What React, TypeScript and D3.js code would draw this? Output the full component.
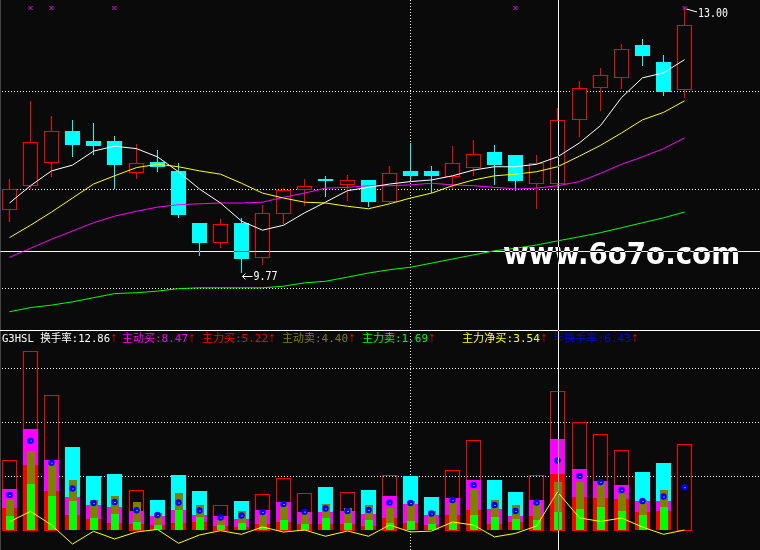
import * as d3 from 'd3';

const W = 760;
const H = 550;

// daily candles, oldest first
const opens = [10.55, 10.84, 11.12, 11.49, 11.37, 11.37, 11.0, 11.12, 11.01, 10.38, 10.15, 10.38, 9.96, 10.5, 10.79, 10.91, 10.85, 10.9, 10.64, 11.01, 11.01, 10.95, 11.06, 11.24, 11.2, 10.86, 10.86, 11.64, 12.03, 12.15, 12.54, 12.33, 12.0];
const highs = [10.91, 11.86, 11.68, 11.63, 11.59, 11.43, 11.34, 11.26, 11.11, 10.38, 10.43, 10.44, 10.6, 10.8, 10.91, 10.95, 10.96, 10.9, 11.07, 11.35, 11.07, 11.31, 11.38, 11.32, 11.2, 11.2, 11.77, 12.1, 12.26, 12.55, 12.61, 12.42, 13.0];
const lows = [10.39, 10.79, 10.94, 11.18, 11.2, 10.79, 10.91, 11.0, 10.44, 9.98, 10.07, 9.77, 9.87, 10.36, 10.58, 10.69, 10.64, 10.57, 10.62, 10.9, 10.74, 10.79, 10.95, 10.84, 10.77, 10.55, 10.8, 11.42, 11.74, 12.0, 12.28, 11.92, 11.9];
const closes = [10.79, 11.36, 11.49, 11.32, 11.31, 11.08, 11.11, 11.06, 10.47, 10.13, 10.36, 9.94, 10.5, 10.78, 10.83, 10.89, 10.9, 10.63, 10.98, 10.95, 10.95, 11.11, 11.21, 11.08, 10.89, 11.11, 11.63, 12.02, 12.17, 12.49, 12.4, 11.97, 12.78];

// moving averages
const ma5 = [10.62, 10.83, 11.01, 11.08, 11.25, 11.31, 11.28, 11.18, 11.0, 10.79, 10.62, 10.4, 10.29, 10.35, 10.5, 10.63, 10.77, 10.81, 10.85, 10.88, 10.9, 10.95, 11.02, 11.06, 11.06, 11.09, 11.18, 11.35, 11.56, 11.9, 12.14, 12.2, 12.36];
const ma10 = [10.2, 10.35, 10.51, 10.68, 10.85, 10.95, 11.05, 11.09, 11.06, 11.01, 10.97, 10.86, 10.74, 10.68, 10.63, 10.62, 10.58, 10.55, 10.61, 10.68, 10.74, 10.83, 10.9, 10.95, 10.97, 11.0, 11.06, 11.19, 11.32, 11.47, 11.63, 11.72, 11.86];
const ma20 = [9.96, 10.07, 10.18, 10.28, 10.38, 10.46, 10.52, 10.57, 10.6, 10.61, 10.62, 10.62, 10.63, 10.69, 10.74, 10.8, 10.81, 10.83, 10.83, 10.84, 10.86, 10.84, 10.83, 10.81, 10.79, 10.8, 10.83, 10.88, 10.98, 11.09, 11.18, 11.28, 11.41];
const ma60 = [9.3, 9.35, 9.38, 9.42, 9.47, 9.52, 9.53, 9.55, 9.58, 9.59, 9.59, 9.59, 9.59, 9.61, 9.65, 9.67, 9.72, 9.77, 9.81, 9.84, 9.89, 9.94, 9.99, 10.04, 10.07, 10.11, 10.16, 10.21, 10.26, 10.32, 10.38, 10.44, 10.51];

const priceGrid = [11.98, 10.79, 9.59];
const signalIdx = [1, 2, 5, 24, 32];
const crossIdx = 26;
const crossPrice = 10.04;
const dividerIdx = 19;

// turnover panel
const turnover = [6.48, 16.55, 12.47, 7.69, 5.0, 5.19, 3.67, 2.78, 5.09, 3.61, 2.31, 2.69, 3.33, 4.81, 3.4, 3.98, 3.52, 3.7, 5.09, 5.0, 3.06, 5.56, 8.33, 4.63, 3.52, 5.09, 12.86, 10.0, 8.89, 7.41, 5.37, 6.2, 7.93];
const activeBuy = [3.8, 9.35, 6.48, 3.09, 2.31, 2.13, 1.76, 1.3, 1.85, 1.39, 1.3, 1.02, 1.85, 2.59, 1.67, 1.67, 1.76, 1.48, 3.15, 2.41, 1.39, 2.96, 4.63, 1.94, 1.3, 2.78, 8.47, 5.68, 4.57, 4.2, 2.69, 2.69, 0];
const mainBuy = [2.06, 5.99, 3.61, 1.39, 1.02, 0.65, 0.56, 0.5, 0.62, 0.74, 0.4, 0.25, 0.56, 0.74, 0.56, 0.53, 0.56, 0.35, 1.11, 0.65, 0.46, 1.39, 1.85, 0.56, 0.71, 1.3, 5.22, 3.06, 2.95, 2.87, 1.66, 1.76, 0];
const activeSell = [2.78, 7.31, 6.17, 4.63, 2.78, 3.15, 2.56, 1.57, 3.43, 2.31, 0.93, 1.76, 1.57, 2.41, 1.67, 2.41, 2.07, 2.31, 2.04, 2.69, 1.76, 2.69, 3.8, 2.78, 2.31, 2.69, 4.4, 4.48, 4.48, 3.36, 2.78, 3.7, 0];
const mainSell = [1.3, 4.26, 3.15, 2.69, 1.14, 1.48, 0.74, 0.45, 1.85, 1.2, 0.46, 0.65, 0.28, 0.93, 0.56, 1.11, 0.65, 0.93, 0.65, 0.83, 0.56, 0.65, 1.39, 1.2, 1.02, 0.93, 1.69, 1.94, 2.16, 1.76, 1.39, 2.16, 0];
const volGrid = [5, 10, 15];

const legendNames = ['G3HSL 换手率', '主动买', '主力买', '主动卖', '主力卖', '主力净买', '半换手率'];
const legendValues = ['12.86', '8.47', '5.22', '4.40', '1.69', '3.54', '6.43'];
const legendColors = ['#ffffff', '#ff00ff', '#ff0000', '#808000', '#00ff00', '#ffff00', '#0000ff'];
const legendX = [2, 122, 202, 282, 362, 462, 553];

const BG = '#0a0a0a';
const RED = '#ff0000';
const CYAN = '#00ffff';
const MONO = "'DejaVu Sans Mono','Noto Sans CJK SC',monospace";

const textWidth = (s: string) => [...s].reduce((a, c) => a + (c.charCodeAt(0) > 255 ? 12 : 6), 0);

export default function App() {
  const n = closes.length;
  const x = d3.scaleLinear().domain([0, n - 1]).range([9.5, 684.5]);
  const cx = (i: number) => Math.floor(x(i)) + 0.5;
  const y = d3.scaleLinear().domain([9.77, 13.0]).range([273, 7]);
  const yb = d3.scaleLinear().domain([0, 15]).range([530, 368]);
  const snap = (v: number) => Math.round(v) + 0.5;
  const base = yb(0);

  const maLine = d3.line<number>().x((_, i) => cx(i)).y(d => y(d));
  const netLine = d3.line<number>().x((_, i) => cx(i)).y(d => yb(d));
  const net = mainBuy.map((b, i) => b - mainSell[i]);

  const mas = [
    { data: ma60, color: '#00ff00' },
    { data: ma20, color: '#ff00ff' },
    { data: ma10, color: '#ffff00' },
    { data: ma5, color: '#ffffff' },
  ];

  const crossX = Math.round(x(crossIdx)) + 0.5;
  const divX = Math.round(x(dividerIdx)) + 0.5;
  const hiIdx = highs.indexOf(d3.max(highs) as number);
  const loIdx = lows.indexOf(d3.min(lows) as number);

  return (
    <div style={{ width: W, height: H, background: BG, overflow: 'hidden' }}>
      <style>{`html,body{margin:0;padding:0;background:${BG};}`}</style>
      <svg width={W} height={H} style={{ display: 'block' }}>
        <rect width={W} height={H} fill={BG} />
        <line x1={0.5} x2={0.5} y1={0} y2={H} stroke="#454545" />

        {/* grids */}
        {priceGrid.map(v => (
          <line key={'pg' + v} x1={2} x2={W} y1={snap(y(v))} y2={snap(y(v))} stroke="#ffffff" strokeDasharray="1 2" />
        ))}
        {volGrid.map(v => (
          <line key={'vg' + v} x1={2} x2={W} y1={snap(yb(v))} y2={snap(yb(v))} stroke="#ffffff" strokeDasharray="1 2" />
        ))}
        <line x1={divX} x2={divX} y1={0} y2={H} stroke="#ffffff" strokeDasharray="1 2" />
        <line x1={0} x2={W} y1={330.5} y2={330.5} stroke="#ffffff" />

        {/* candles */}
        {closes.map((c, i) => {
          const o = opens[i];
          const up = c >= o;
          const X = cx(i);
          const top = Math.round(y(Math.max(o, c)));
          const bot = Math.round(y(Math.min(o, c)));
          const hi = Math.round(y(highs[i]));
          const lo = Math.round(y(lows[i]));
          if (up) {
            return (
              <g key={'c' + i}>
                <line x1={X} x2={X} y1={hi} y2={top} stroke={RED} />
                <line x1={X} x2={X} y1={bot} y2={lo} stroke={RED} />
                <rect x={X - 7} y={top + 0.5} width={14} height={Math.max(1, bot - top)} fill={BG} stroke={RED} />
              </g>
            );
          }
          return (
            <g key={'c' + i}>
              <line x1={X} x2={X} y1={hi} y2={lo} stroke={CYAN} />
              <rect x={X - 7.5} y={top} width={15} height={Math.max(1, bot - top)} fill={CYAN} />
            </g>
          );
        })}

        {/* moving averages */}
        {mas.map(m => (
          <path key={m.color} d={maLine(m.data) || ''} fill="none" stroke={m.color} strokeWidth={1} />
        ))}

        {/* signal markers */}
        {signalIdx.map(i => (
          <g key={'s' + i} stroke="#ff00ff">
            <line x1={cx(i) - 2} x2={cx(i) + 2} y1={6} y2={10} />
            <line x1={cx(i) - 2} x2={cx(i) + 2} y1={10} y2={6} />
          </g>
        ))}

        {/* high / low labels */}
        <line x1={cx(hiIdx) + 2} y1={y(highs[hiIdx]) + 2} x2={697} y2={12} stroke="#ffffff" />
        <text x={698} y={y(highs[hiIdx]) + 10} fill="#ffffff" fontFamily={MONO} fontSize={12} textLength={30} lengthAdjust="spacingAndGlyphs">
          {highs[hiIdx].toFixed(2)}
        </text>
        <g stroke="#ffffff">
          <line x1={cx(loIdx) + 1} x2={cx(loIdx) + 11} y1={y(lows[loIdx]) + 3.5} y2={y(lows[loIdx]) + 3.5} />
          <line x1={cx(loIdx) + 1} x2={cx(loIdx) + 4} y1={y(lows[loIdx]) + 3.5} y2={y(lows[loIdx]) + 0.5} />
          <line x1={cx(loIdx) + 1} x2={cx(loIdx) + 4} y1={y(lows[loIdx]) + 3.5} y2={y(lows[loIdx]) + 6.5} />
        </g>
        <text x={cx(loIdx) + 12} y={y(lows[loIdx]) + 7} fill="#ffffff" fontFamily={MONO} fontSize={12} textLength={24} lengthAdjust="spacingAndGlyphs">
          {lows[loIdx].toFixed(2)}
        </text>

        {/* turnover bars */}
        {turnover.map((t, i) => {
          const up = closes[i] >= opens[i];
          const X = cx(i);
          const yt = Math.round(yb(t));
          return (
            <g key={'b' + i}>
              {up ? (
                <rect x={X - 7} y={yt + 0.5} width={14} height={base - yt} fill="none" stroke={RED} />
              ) : (
                <rect x={X - 7.5} y={yt} width={15} height={base - yt} fill={CYAN} />
              )}
              {activeBuy[i] > 0 && <rect x={X - 7.5} y={Math.round(yb(activeBuy[i]))} width={15} height={base - Math.round(yb(activeBuy[i]))} fill="#ff00ff" />}
              {mainBuy[i] > 0 && <rect x={X - 7.5} y={Math.round(yb(mainBuy[i]))} width={15} height={base - Math.round(yb(mainBuy[i]))} fill={RED} />}
              {activeSell[i] > 0 && <rect x={X - 3.5} y={Math.round(yb(activeSell[i]))} width={8} height={base - Math.round(yb(activeSell[i]))} fill="#808000" />}
              {mainSell[i] > 0 && <rect x={X - 3.5} y={Math.round(yb(mainSell[i]))} width={8} height={base - Math.round(yb(mainSell[i]))} fill="#00ff00" />}
              <circle cx={X} cy={yb(t / 2)} r={3.2} fill="#0000ff" />
              <rect x={X} y={yb(t / 2)} width={1} height={1} fill="#ffffff" />
            </g>
          );
        })}
        <path d={netLine(net) || ''} fill="none" stroke="#ffff00" strokeWidth={1} />

        {/* legend */}
        {legendNames.map((name, k) => {
          const s = `${name}:${legendValues[k]}`;
          const w = textWidth(s);
          return (
            <g key={'l' + k}>
              <text x={legendX[k]} y={342} fill={legendColors[k]} fontFamily={MONO} fontSize={11} textLength={w} lengthAdjust="spacingAndGlyphs">
                {s}
              </text>
              <text x={legendX[k] + w + 1} y={342} fill={RED} fontFamily="'DejaVu Sans',sans-serif" fontSize={11} textLength={6} lengthAdjust="spacingAndGlyphs">↑</text>
            </g>
          );
        })}

        {/* watermark */}
        <text x={503} y={264} fill="#ffffff" fontFamily="'DejaVu Sans',sans-serif" fontWeight="bold" fontSize={30} textLength={237} lengthAdjust="spacingAndGlyphs">
          www.6o7o.com
        </text>

        {/* crosshair (xor-style) */}
        <g style={{ mixBlendMode: 'difference' }} stroke="#ffffff">
          <line x1={0} x2={W} y1={snap(y(crossPrice))} y2={snap(y(crossPrice))} />
          <line x1={crossX} x2={crossX} y1={0} y2={H} />
        </g>
      </svg>
    </div>
  );
}
